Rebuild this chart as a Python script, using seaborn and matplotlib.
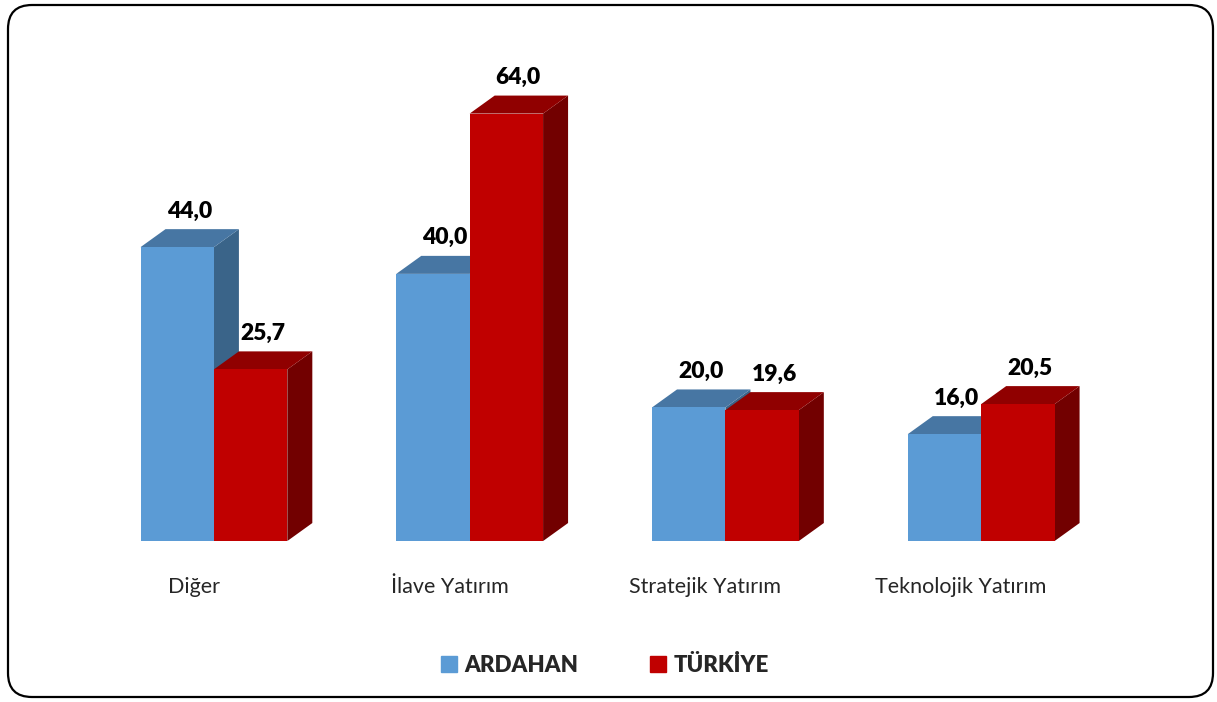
import matplotlib
matplotlib.use('Agg')
import matplotlib.pyplot as plt
import seaborn as sns
import pandas as pd
from matplotlib.patches import Polygon, FancyBboxPatch
from matplotlib.lines import Line2D
from matplotlib.transforms import IdentityTransform, ScaledTranslation

categories = ['Diğer', 'İlave Yatırım', 'Stratejik Yatırım', 'Teknolojik Yatırım']
series = ['ARDAHAN', 'TÜRKİYE']
ardahan = [44.0, 40.0, 20.0, 16.0]
turkiye = [25.7, 64.0, 19.6, 20.5]

front = {'ARDAHAN': '#5B9BD5', 'TÜRKİYE': '#C00000'}
top_col = {'ARDAHAN': '#4776A3', 'TÜRKİYE': '#900000'}
side_col = {'ARDAHAN': '#3A6489', 'TÜRKİYE': '#720000'}

df = pd.DataFrame({
    'kategori': categories * 2,
    'bolge': ['ARDAHAN'] * 4 + ['TÜRKİYE'] * 4,
    'deger': ardahan + turkiye,
})

sns.set_style('white')
plt.rcParams['font.family'] = ['Lato', 'DejaVu Sans']

fig = plt.figure(figsize=(12.17, 7.02), dpi=100)
ax = fig.add_axes([0.0707, 0.2293, 0.8406, 0.666])

sns.barplot(data=df, x='kategori', y='deger', hue='bolge', order=categories,
            hue_order=series, palette=front, width=0.574, saturation=1,
            edgecolor='none', ax=ax, legend=False)

ax.set_xlim(-0.5, 3.5)
ax.set_ylim(0, 70)
for s in ax.spines.values():
    s.set_visible(False)
ax.set_yticks([])
ax.set_xlabel('')
ax.set_ylabel('')
ax.tick_params(axis='x', length=0, pad=26, labelsize=15.5)
shift = ScaledTranslation(-0.2, 0, fig.dpi_scale_trans)
for lab in ax.get_xticklabels():
    lab.set_transform(lab.get_transform() + shift)

# 3D derinlik (veri birimi)
p0 = ax.transData.transform((0, 0))
p1 = ax.transData.transform((1, 1))
dx = 25 / (p1[0] - p0[0])
dy = 18 / (p1[1] - p0[1])

for k, (name, cont) in enumerate(zip(series, ax.containers)):
    for bar in cont:
        x0 = bar.get_x()
        w = bar.get_width()
        h = bar.get_height()
        x1 = x0 + w
        side = Polygon([(x1, 0), (x1 + dx, dy), (x1 + dx, h + dy), (x1, h)],
                       closed=True, facecolor=side_col[name], edgecolor='none',
                       zorder=2 + 2 * k)
        top = Polygon([(x0, h), (x0 + dx, h + dy), (x1 + dx, h + dy), (x1, h)],
                      closed=True, facecolor=top_col[name], edgecolor='none',
                      zorder=2 + 2 * k)
        ax.add_patch(side)
        ax.add_patch(top)
        bar.set_zorder(3 + 2 * k)
        ax.annotate(f'{h:.1f}'.replace('.', ','), xy=(x0 + w / 2, h),
                    xytext=(12, 36), textcoords='offset pixels',
                    ha='center', va='center', fontsize=16.5, fontweight='heavy',
                    color='black', zorder=10)

handles = [Line2D([], [], marker='s', linestyle='', markersize=11.5,
                  color=front[s]) for s in series]
fig.legend(handles, series, loc='center', bbox_to_anchor=(0.4967, 0.0527),
           ncol=2, frameon=False, handlelength=0.8, handletextpad=0.3,
           columnspacing=3.2, prop={'weight': 'heavy', 'size': 16})

border = FancyBboxPatch((8, 5), 1205, 692,
                        boxstyle='round,pad=0,rounding_size=24',
                        transform=IdentityTransform(), facecolor='none',
                        edgecolor='black', linewidth=1.6)
fig.add_artist(border)

fig.savefig('out.png', dpi=100)
